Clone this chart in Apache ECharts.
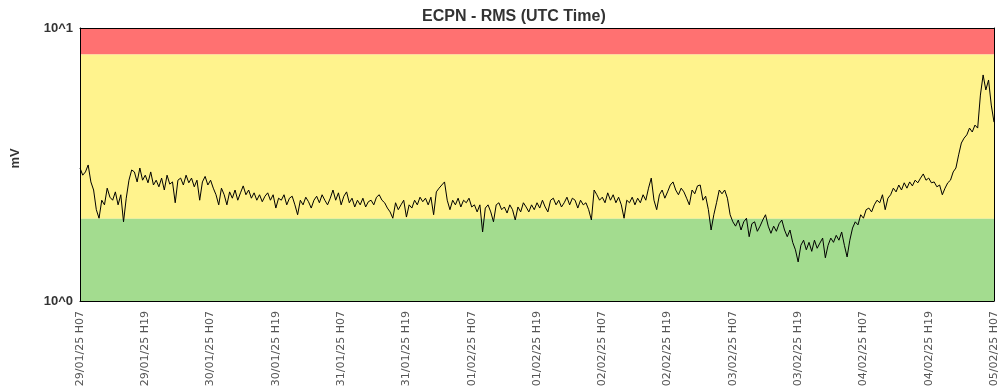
<!DOCTYPE html>
<html>
<head>
<meta charset="utf-8">
<script src="https://cdn.jsdelivr.net/npm/echarts@6/dist/echarts.min.js"></script>
<style>html,body{margin:0;padding:0;background:#fff;}#c{width:1002px;height:392px;}</style>
</head>
<body>
<div id="c"></div>
<script>
// Tick labels (every 12 hours)
const tickLabels = ['29/01/25 H07','29/01/25 H19','30/01/25 H07','30/01/25 H19','31/01/25 H07','31/01/25 H19','01/02/25 H07','01/02/25 H19','02/02/25 H07','02/02/25 H19','03/02/25 H07','03/02/25 H19','04/02/25 H07','04/02/25 H19','05/02/25 H07'];
// Hours since start per sample
const stepHours = 0.5;
// Threshold bands (mV)
const bandRed = [8, 10];
const bandYellow = [2, 8];
const bandGreen = [1, 2];
// RMS values (mV), every 30 minutes, one array per day
const day1 = [3.07,2.89,2.97,3.15,2.73,2.55,2.16,2.01,2.34,2.25, 2.59,2.40,2.34,2.51,2.25,2.45,1.95,2.38,2.77,3.02, 2.97,2.73,3.07,2.77,2.89,2.71,2.97,2.66,2.77,2.62, 2.82,2.55,2.89,2.68,2.73,2.29,2.77,2.82,2.66,2.89, 2.71,2.82,2.62,2.77,2.34,2.73,2.86,2.66];
const day2 = [2.77,2.59,2.45,2.25,2.59,2.45,2.25,2.51,2.38,2.55, 2.34,2.49,2.64,2.45,2.55,2.38,2.49,2.34,2.45,2.31, 2.42,2.49,2.34,2.45,2.19,2.38,2.34,2.45,2.25,2.38, 2.42,2.25,2.07,2.34,2.25,2.40,2.31,2.19,2.34,2.42, 2.29,2.45,2.34,2.25,2.38,2.55,2.34,2.49];
const day3 = [2.25,2.42,2.51,2.29,2.38,2.21,2.34,2.25,2.38,2.21, 2.31,2.34,2.25,2.40,2.45,2.34,2.29,2.19,2.12,2.01, 2.29,2.16,2.25,2.34,2.03,2.25,2.19,2.34,2.25,2.40, 2.31,2.38,2.25,2.40,2.07,2.51,2.59,2.66,2.73,2.34, 2.16,2.34,2.25,2.38,2.21,2.34,2.29,2.38];
const day4 = [2.21,2.25,2.12,2.25,1.79,2.19,2.25,2.12,1.95,2.25, 2.29,2.16,2.21,2.10,2.25,2.16,1.98,2.21,2.12,2.29, 2.21,2.12,2.25,2.16,2.29,2.19,2.34,2.21,2.12,2.34, 2.38,2.25,2.34,2.21,2.29,2.40,2.25,2.38,2.34,2.19, 2.34,2.25,2.29,2.16,1.98,2.55,2.45,2.34];
const day5 = [2.40,2.29,2.49,2.34,2.45,2.29,2.40,2.25,2.01,2.34, 2.29,2.40,2.25,2.38,2.29,2.45,2.34,2.59,2.82,2.34, 2.16,2.45,2.55,2.38,2.51,2.66,2.73,2.55,2.45,2.59, 2.51,2.38,2.25,2.55,2.47,2.64,2.66,2.34,2.42,2.16, 1.82,2.07,2.29,2.55,2.47,2.55,2.38,2.07];
const day6 = [1.95,1.88,1.98,1.82,1.95,2.01,1.72,1.92,1.95,1.80, 1.88,1.98,2.07,1.88,1.77,1.88,1.80,1.92,1.98,1.82, 1.72,1.82,1.64,1.54,1.39,1.60,1.67,1.54,1.64,1.52, 1.67,1.56,1.63,1.70,1.44,1.60,1.70,1.64,1.74,1.67, 1.79,1.60,1.45,1.67,1.85,1.95,1.90,2.07];
const day7 = [2.01,2.16,2.19,2.12,2.25,2.34,2.29,2.45,2.16,2.38, 2.45,2.59,2.51,2.66,2.55,2.71,2.59,2.73,2.64,2.77, 2.71,2.82,2.92,2.77,2.82,2.71,2.73,2.62,2.66,2.45, 2.59,2.71,2.77,2.97,3.07,3.43,3.79,3.95,4.06,4.30, 4.16,4.41,4.30,5.68,6.73,5.93,6.45,5.22,4.52];

const rms = [].concat(day1, day2, day3, day4, day5, day6, day7);
const seriesData = rms.map((v, i) => [i * stepHours, v]);
const maxHour = (tickLabels.length - 1) * 12;

const chart = echarts.init(document.getElementById('c'), null, {renderer: 'canvas'});
const hidden = {show: false};
chart.setOption({
  animation: false,
  backgroundColor: '#fff',
  title: {
    text: 'ECPN - RMS (UTC Time)',
    left: 417, top: 4,
    textStyle: {fontFamily: 'Liberation Sans', fontSize: 16, fontWeight: 'bold', color: '#333'}
  },
  grid: {left: 80, right: 8, top: 28, bottom: 91, containLabel: false},
  xAxis: [{
    type: 'value', min: 0, max: maxHour, interval: 12, z: 10,
    axisLine: {show: true, onZero: false, lineStyle: {color: '#000', width: 1}},
    axisTick: hidden, splitLine: hidden,
    axisLabel: {
      rotate: 90, margin: 10, color: '#555', fontFamily: 'DejaVu Sans', fontSize: 11,
      formatter: v => tickLabels[Math.round(v / 12)] || ''
    }
  }, {
    type: 'value', position: 'top', min: 0, max: maxHour, z: 10,
    axisLine: {show: true, onZero: false, lineStyle: {color: '#000', width: 1}},
    axisTick: hidden, axisLabel: hidden, splitLine: hidden
  }],
  yAxis: [{
    type: 'log', logBase: 10, min: 1, max: 10, z: 10,
    name: 'mV', nameLocation: 'middle', nameRotate: 90, nameGap: 58,
    nameTextStyle: {fontFamily: 'Liberation Sans', fontSize: 13, fontWeight: 'bold', color: '#333', padding: [0, 0, 0, 12]},
    axisLine: {show: true, onZero: false, lineStyle: {color: '#000', width: 1}},
    axisTick: hidden, splitLine: hidden,
    axisLabel: {
      margin: 7, color: '#333', fontFamily: 'Liberation Sans', fontSize: 13, fontWeight: 'bold',
      padding: [4, 0, 0, 0],
      formatter: v => '10^' + Math.round(Math.log10(v))
    }
  }, {
    type: 'log', logBase: 10, min: 1, max: 10, position: 'right', z: 10,
    axisLine: {show: true, onZero: false, lineStyle: {color: '#000', width: 1}},
    axisTick: hidden, axisLabel: hidden, splitLine: hidden
  }],
  series: [{
    type: 'line',
    data: seriesData,
    showSymbol: false,
    symbol: 'none',
    lineStyle: {color: '#000', width: 1},
    z: 3,
    markArea: {
      silent: true,
      z: 1,
      data: [
        [{yAxis: bandRed[0], itemStyle: {color: '#ff7171'}}, {yAxis: bandRed[1]}],
        [{yAxis: bandYellow[0], itemStyle: {color: '#fff38d'}}, {yAxis: bandYellow[1]}],
        [{yAxis: bandGreen[0], itemStyle: {color: '#a3dc8f'}}, {yAxis: bandGreen[1]}]
      ]
    }
  }]
});
</script>
</body>
</html>
